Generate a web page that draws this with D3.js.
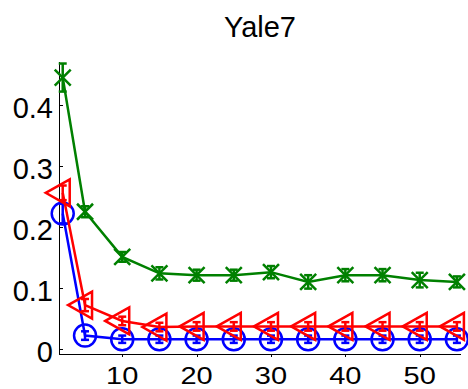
<!DOCTYPE html>
<html>
<head>
<meta charset="utf-8">
<script src="https://cdn.jsdelivr.net/npm/d3@7"></script>
<style>
  body { margin: 0; background: #fff; }
  text { font-family: "Liberation Sans", Arial, sans-serif; fill: #000; }
</style>
</head>
<body>
<div id="content"></div>
<script>
// data
const xs = [2, 5, 10, 15, 20, 25, 30, 35, 40, 45, 50, 55];
const blueVals  = [0.222, 0.022, 0.016, 0.016, 0.016, 0.016, 0.016, 0.016, 0.016, 0.016, 0.016, 0.016];
const blueErr   = [0.016, 0.007, 0.006, 0.006, 0.006, 0.006, 0.006, 0.006, 0.006, 0.006, 0.006, 0.006];
const redVals   = [0.256, 0.072, 0.046, 0.036, 0.037, 0.037, 0.037, 0.037, 0.037, 0.037, 0.037, 0.037];
const redErr    = [0.012, 0.010, 0.007, 0.007, 0.007, 0.007, 0.007, 0.007, 0.007, 0.007, 0.007, 0.007];
const greenVals = [0.445, 0.225, 0.151, 0.124, 0.121, 0.121, 0.126, 0.110, 0.121, 0.121, 0.113, 0.110];
const greenErr  = [0.023, 0.009, 0.008, 0.010, 0.009, 0.009, 0.010, 0.011, 0.010, 0.010, 0.012, 0.009];
const xTicks = [10, 20, 30, 40, 50];
const yTicks = [0, 0.1, 0.2, 0.3, 0.4];
const title = "Yale7";

const W = 468, H = 389;
const svg = d3.select("#content").append("svg")
    .attr("width", W).attr("height", H);

const x = d3.scaleLinear().domain([1.5, 55.55]).range([59, 461]);
const y = d3.scaleLinear().domain([-0.0082, 0.4705]).range([354, 62]);

// title
svg.append("text").attr("x", 260).attr("y", 37)
   .attr("text-anchor", "middle").style("font-size", "29px").text(title);

// axes
const ax = svg.append("g").attr("stroke", "#000").attr("stroke-width", 1);
ax.append("line").attr("x1", 59.5).attr("x2", 59.5).attr("y1", 62).attr("y2", 354.5);
ax.append("line").attr("x1", 59).attr("x2", 461).attr("y1", 354.5).attr("y2", 354.5);

ax.selectAll(".yt").data(yTicks).enter().append("line")
  .attr("x1", 59).attr("x2", 63)
  .attr("y1", d => Math.round(y(d)) + 0.5).attr("y2", d => Math.round(y(d)) + 0.5);
ax.selectAll(".xt").data(xTicks).enter().append("line")
  .attr("x1", d => Math.round(x(d)) + 0.5).attr("x2", d => Math.round(x(d)) + 0.5)
  .attr("y1", 354).attr("y2", 357);

svg.selectAll(".ylab").data(yTicks).enter().append("text")
   .attr("x", 53).attr("y", d => y(d) + 13)
   .attr("text-anchor", "end").style("font-size", "29px")
   .text(d => d === 0 ? "0" : d3.format(".1f")(d));

svg.selectAll(".xlab").data(xTicks).enter().append("text")
   .attr("transform", d => `translate(${x(d)},384) scale(1,0.84)`)
   .attr("text-anchor", "middle").style("font-size", "29px")
   .text(d => d);

// series
const series = [
  {vals: blueVals, err: blueErr, color: "#0000ff", marker: "circle"},
  {vals: redVals, err: redErr, color: "#ff0000", marker: "tri"},
  {vals: greenVals, err: greenErr, color: "#008000", marker: "x"}
];

const line = d3.line().x(d => x(d[0])).y(d => y(d[1]));

series.forEach(s => {
  const pts = xs.map((v, i) => [v, s.vals[i], s.err[i]]);
  const g = svg.append("g").attr("stroke", s.color).attr("fill", "none").attr("stroke-width", 2.5);

  g.append("path").attr("d", line(pts));

  // error bars
  const eb = g.selectAll(".eb").data(pts).enter().append("g");
  eb.append("line").attr("x1", d => x(d[0])).attr("x2", d => x(d[0]))
    .attr("y1", d => y(d[1] - d[2])).attr("y2", d => y(d[1] + d[2]));
  eb.append("line").attr("x1", d => x(d[0]) - 4).attr("x2", d => x(d[0]) + 4)
    .attr("y1", d => y(d[1] - d[2])).attr("y2", d => y(d[1] - d[2]));
  eb.append("line").attr("x1", d => x(d[0]) - 4).attr("x2", d => x(d[0]) + 4)
    .attr("y1", d => y(d[1] + d[2])).attr("y2", d => y(d[1] + d[2]));

  // markers
  const m = g.selectAll(".m").data(pts).enter().append("g")
    .attr("transform", d => `translate(${x(d[0])},${y(d[1])})`);
  if (s.marker === "circle") {
    m.append("circle").attr("r", 11);
  } else if (s.marker === "tri") {
    m.append("path").attr("d", "M-17,0L7,-13.5L7,13.5Z");
  } else {
    m.append("path").attr("d", "M-8,-8L8,8M-8,8L8,-8");
  }
});
</script>
</body>
</html>
